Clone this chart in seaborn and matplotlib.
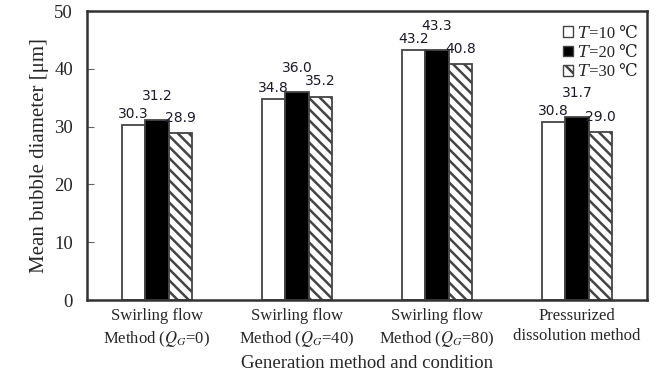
import numpy as np
import pandas as pd
import matplotlib.pyplot as plt
import seaborn as sns
from matplotlib.patches import Patch

# data
categories = ["Swirling flow\nMethod ($Q_G$=0)", "Swirling flow\nMethod ($Q_G$=40)",
              "Swirling flow\nMethod ($Q_G$=80)", "Pressurized\ndissolution method"]
# italic T as the unicode math italic letter, so the degree sign can fall back to DejaVu
temps = ["\U0001D447=10 \u2103", "\U0001D447=20 \u2103", "\U0001D447=30 \u2103"]
t10 = [30.3, 34.8, 43.2, 30.8]
t20 = [31.2, 36.0, 43.3, 31.7]
t30 = [28.9, 35.2, 40.8, 29.0]

rows = []
for t, vals in zip(temps, [t10, t20, t30]):
    for c, v in zip(categories, vals):
        rows.append({"cond": c, "temp": t, "d": v})
df = pd.DataFrame(rows)

sns.set_style("ticks")
plt.rcParams["font.family"] = ["Liberation Serif", "DejaVu Sans"]
plt.rcParams["mathtext.fontset"] = "stix"
plt.rcParams["hatch.linewidth"] = 1.8

fig, ax = plt.subplots(figsize=(6.57, 3.88), dpi=100)
fig.subplots_adjust(left=0.1324, right=0.985, bottom=0.2268, top=0.9716)

sns.barplot(data=df, x="cond", y="d", hue="temp", hue_order=temps, order=categories,
            width=0.5, gap=0, ax=ax, legend=False, errorbar=None)

faces = ["white", "black", "white"]
hatches = [None, None, "\\\\\\"]
pads = [3, 12, 6]
for i, cont in enumerate(ax.containers):
    for bar in cont:
        bar.set_facecolor(faces[i])
        bar.set_edgecolor("#444444")
        bar.set_linewidth(1.3)
        if hatches[i]:
            bar.set_hatch(hatches[i])
    ax.bar_label(cont, fmt="%.1f", padding=pads[i], fontsize=10,
                 family="DejaVu Sans", color="#1a1a2a")

ax.set_ylim(0, 50)
ax.set_yticks(np.arange(0, 51, 10))
ax.set_xlim(-0.5, 3.5)
ax.tick_params(axis="y", direction="in", length=5, width=0.8, labelsize=13.5, pad=10,
               color="#666666")
ax.tick_params(axis="x", length=0, labelsize=12, pad=6)
for lbl in ax.get_xticklabels():
    lbl.set_linespacing(1.3)
for s in ax.spines.values():
    s.set_visible(True)
    s.set_linewidth(1.8)
    s.set_color("#333333")

ax.set_ylabel("Mean bubble diameter [\u03bcm]", fontsize=15, labelpad=4)
ax.set_xlabel("Generation method and condition", fontsize=13.5, labelpad=5)

handles = [Patch(facecolor="white", edgecolor="#444444", linewidth=1),
           Patch(facecolor="black", edgecolor="#444444", linewidth=1),
           Patch(facecolor="white", edgecolor="#444444", hatch="\\\\", linewidth=1)]
ax.legend(handles, temps, loc="upper right", frameon=False,
          prop={"family": ["Liberation Serif", "DejaVu Serif", "DejaVu Sans", "STIXGeneral"],
                "size": 12},
          handlelength=0.6, handleheight=0.6, handletextpad=0.3, labelspacing=0.2,
          borderaxespad=0.3, bbox_to_anchor=(1.005, 0.99))

plt.savefig("out.png", dpi=100)
